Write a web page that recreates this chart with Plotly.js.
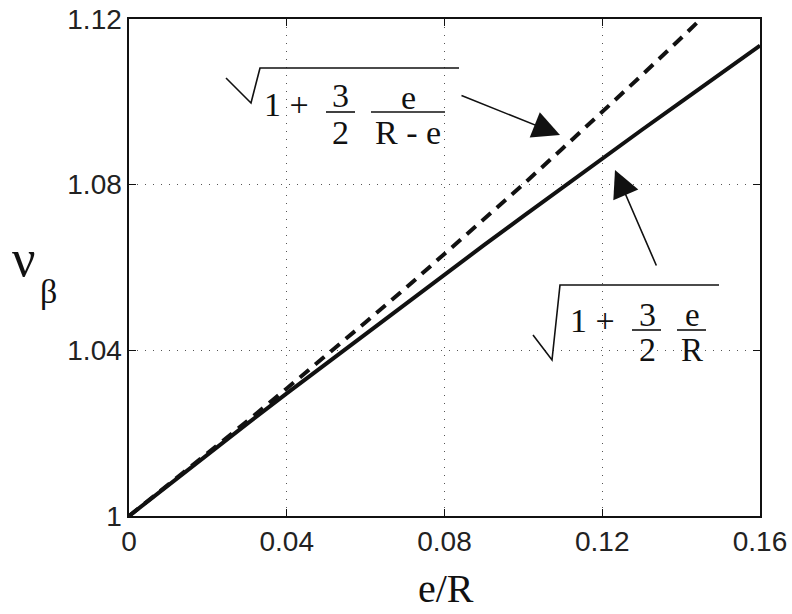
<!DOCTYPE html>
<html>
<head>
<meta charset="utf-8">
<script src="https://cdn.plot.ly/plotly-3.0.1.min.js"></script>
<style>html,body{margin:0;padding:0;background:#fff;}#chart{width:792px;height:614px;}</style>
</head>
<body>
<div id="chart"></div>
<script>
// Data
var eOverR = [0, 0.01, 0.02, 0.03, 0.04, 0.05, 0.06, 0.07, 0.08, 0.09, 0.10, 0.11, 0.12, 0.13, 0.14, 0.15, 0.16];
var nuBetaSolid = [1, 1.0075, 1.0149, 1.0223, 1.0296, 1.0368, 1.0440, 1.0512, 1.0583, 1.0654, 1.0724, 1.0794, 1.0863, 1.0932, 1.1000, 1.1068, 1.1136];
var eOverRDashed = [0, 0.01, 0.02, 0.03, 0.04, 0.05, 0.06, 0.07, 0.08, 0.09, 0.10, 0.11, 0.12, 0.13, 0.14, 0.15];
var nuBetaDashed = [1, 1.0076, 1.0152, 1.0229, 1.0308, 1.0387, 1.0468, 1.0549, 1.0632, 1.0716, 1.0801, 1.0888, 1.0975, 1.1064, 1.1154, 1.1246];
var xTickVals = [0, 0.04, 0.08, 0.12, 0.16];
var xTickText = ['0', '0.04', '0.08', '0.12', '0.16'];
var yTickVals = [1, 1.04, 1.08, 1.12];
var yTickText = ['1', '1.04', '1.08', '1.12'];

// Layout geometry (pixels)
var L = 129, R = 760, T = 19, B = 516, W = 792, H = 614;
function xp(px){ return (px - L) / (R - L); }
function yp(py){ return (B - py) / (B - T); }

var serif = 'Liberation Serif, Times New Roman, serif';
var sans = 'Liberation Sans, Arial, Helvetica, sans-serif';
var fs = 34;

function txt(s, px, py, size, yanchor){
  return {text: s, x: xp(px), y: yp(py), xref: 'paper', yref: 'paper',
    xanchor: 'center', yanchor: yanchor || 'middle', showarrow: false,
    font: {family: serif, size: size || fs, color: '#111'}};
}
function arrow(tipX, tipY, tailX, tailY){
  return {text: '', x: xp(tipX), y: yp(tipY), xref: 'paper', yref: 'paper',
    ax: tailX - tipX, ay: tailY - tipY, showarrow: true,
    arrowhead: 2, arrowsize: 3.4, arrowwidth: 1.6, arrowcolor: '#111', standoff: 0, startstandoff: 0};
}
function seg(x0, y0, x1, y1, w){
  return {type: 'line', xref: 'paper', yref: 'paper', x0: xp(x0), y0: yp(y0), x1: xp(x1), y1: yp(y1),
    line: {color: '#111', width: w || 1.6}};
}
function sqrtSign(a, b, c, d){
  return {type: 'path', xref: 'paper', yref: 'paper',
    path: 'M' + xp(a[0]) + ',' + yp(a[1]) + ' L' + xp(b[0]) + ',' + yp(b[1]) +
          ' L' + xp(c[0]) + ',' + yp(c[1]) + ' L' + xp(d) + ',' + yp(c[1]),
    line: {color: '#111', width: 1.6}};
}

var traces = [
  {x: eOverR, y: nuBetaSolid, type: 'scatter', mode: 'lines',
   line: {color: '#111', width: 4}, hoverinfo: 'skip'},
  {x: eOverRDashed, y: nuBetaDashed, type: 'scatter', mode: 'lines',
   line: {color: '#111', width: 4, dash: '12px,8px'}, hoverinfo: 'skip'}
];

var annotations = [
  // upper formula  sqrt(1 + 3/2 * e/(R-e))
  txt('1 +', 286, 104),
  txt('3', 340, 95), txt('2', 340, 133),
  txt('e', 408, 97), txt('R - e', 408, 133),
  arrow(560, 135, 460, 95),
  // lower formula  sqrt(1 + 3/2 * e/R)
  txt('1 +', 592, 320),
  txt('3', 647, 314), txt('2', 647, 349),
  txt('e', 692, 315, 33), txt('R', 692, 350, 33),
  arrow(615, 170, 657, 267),
  // axis labels
  txt('ν', 24, 258, 52), txt('β', 48, 291, 34),
  txt('e/R', 446, 613, 40, 'bottom')
];

var shapes = [
  sqrtSign([226, 78], [251, 103], [260, 68], 459),
  seg(326, 112, 355, 112), seg(371, 112, 445, 112),
  sqrtSign([533, 335], [552, 360], [560, 285], 719),
  seg(632, 330, 661, 330), seg(677, 330, 706, 330)
];

var axisCommon = {
  showline: true, linecolor: '#111', linewidth: 1.6, mirror: 'ticks',
  ticks: 'inside', ticklen: 7, tickwidth: 1.2, tickcolor: '#111',
  showgrid: true, gridcolor: '#555', gridwidth: 1, griddash: '1px,7px',
  zeroline: false, tickfont: {family: sans, size: 28, color: '#222'}
};

var layout = {
  width: W, height: H,
  margin: {l: L, r: W - R, t: T, b: H - B},
  paper_bgcolor: '#fff', plot_bgcolor: '#fff',
  showlegend: false,
  xaxis: Object.assign({}, axisCommon, {
    range: [0, 0.16], tickmode: 'array', tickvals: xTickVals, ticktext: xTickText
  }),
  yaxis: Object.assign({}, axisCommon, {
    range: [1, 1.12], tickmode: 'array', tickvals: yTickVals, ticktext: yTickText
  }),
  annotations: annotations,
  shapes: shapes
};

Plotly.newPlot('chart', traces, layout, {displayModeBar: false, staticPlot: true});
</script>
</body>
</html>
